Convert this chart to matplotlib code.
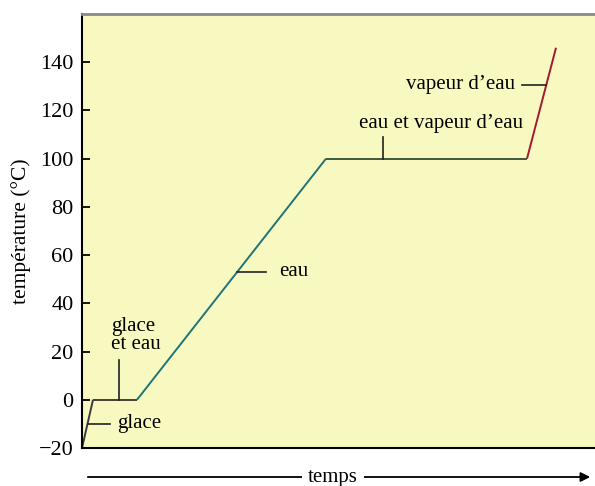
import matplotlib
matplotlib.use("Agg")
import matplotlib.pyplot as plt
import numpy as np

# heating curve of water: time (arbitrary units) vs temperature (°C)
temps = [0, 11, 55, 244, 445, 474]
temperature = [-20, 0, 0, 100, 100, 146]
phase_colors = ["#3a3a3a", "#4a3d33", "#1f7479", "#3e5a3a", "#a3192f"]

yticks = [-20, 0, 20, 40, 60, 80, 100, 120, 140]

plt.rcParams["font.family"] = ["Liberation Serif", "DejaVu Serif"]
plt.rcParams["font.size"] = 15

fig = plt.figure(figsize=(5.95, 4.86), dpi=100)
ax = fig.add_axes([82 / 595, 38 / 486, 513 / 595, 434 / 486])
ax.set_facecolor("#f7f9c0")

for i in range(len(temps) - 1):
    ax.plot(temps[i:i + 2], temperature[i:i + 2], color=phase_colors[i],
            lw=1.4, solid_capstyle="butt")

ax.set_xlim(0, 513)
ax.set_ylim(-20, 160)
ax.set_yticks(yticks)
ax.set_yticklabels(["\u221220" if t < 0 else str(t) for t in yticks])
ax.set_xticks([])
ax.tick_params(axis="y", direction="in", length=6, width=1.3, pad=6,
               labelsize=16)
ax.set_ylabel("température (°C)", fontsize=15.5, labelpad=6)

for s in ("left", "bottom"):
    ax.spines[s].set_linewidth(1.5)
ax.spines["top"].set_color("#8a8a8a")
ax.spines["top"].set_linewidth(2)
ax.spines["right"].set_visible(False)

leader = dict(color="#222222", lw=1.2)

# glace
y_g = -10
x_g = np.interp(y_g, temperature[:2], temps[:2])
ax.plot([x_g, 28], [y_g, y_g], **leader)
ax.text(35, y_g, "glace", ha="left", va="center")

# glace et eau
ax.plot([37, 37], [0, 16.5], **leader)
ax.text(29, 19, "glace\net eau", ha="left", va="bottom", linespacing=0.95)

# eau
y_e = 53
x_e = np.interp(y_e, temperature[2:4], temps[2:4])
ax.plot([x_e, 184], [y_e, y_e], **leader)
ax.text(197, y_e, "eau", ha="left", va="center")

# eau et vapeur d'eau
ax.plot([301, 301], [100, 108.8], **leader)
ax.text(359, 110.5, "eau et vapeur d\u2019eau", ha="center", va="bottom")

# vapeur d'eau
y_v = 130.7
x_v = np.interp(y_v, temperature[4:6], temps[4:6])
ax.plot([x_v, 440], [y_v, y_v], **leader)
ax.text(433, y_v, "vapeur d\u2019eau", ha="right", va="center")

# time arrow under the axes
fig.add_artist(matplotlib.patches.FancyArrowPatch(
    (85 / 595, 9 / 486), (593 / 595, 9 / 486), transform=fig.transFigure,
    arrowstyle="-|>", mutation_scale=14, color="black", lw=1.3))
fig.text(333 / 595, 9 / 486, "temps", ha="center", va="center", fontsize=15,
         bbox=dict(facecolor="white", edgecolor="none", pad=4))

fig.savefig("out.png", dpi=100, facecolor="white")
